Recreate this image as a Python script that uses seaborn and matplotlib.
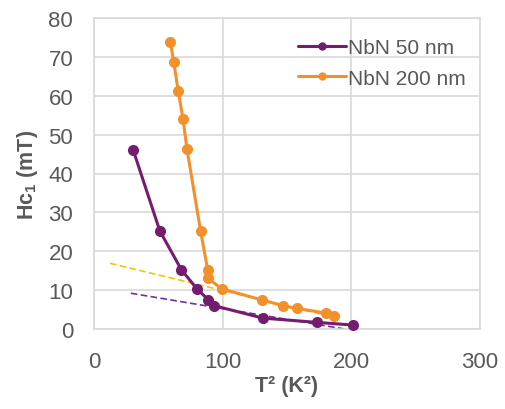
import matplotlib
matplotlib.use("Agg")
import matplotlib.pyplot as plt
import seaborn as sns
import pandas as pd

# Hc1 versus T^2 for two NbN film thicknesses
t2_50 = [30.5, 51.2, 68.0, 80.1, 88.9, 93.3, 131.3, 173.4, 201.6]
hc1_50 = [46.0, 25.2, 15.2, 10.3, 7.5, 6.0, 2.8, 1.7, 1.0]

t2_200 = [59.4, 62.0, 65.4, 69.2, 72.3, 82.9, 88.4, 88.6, 99.5, 130.2, 146.7, 157.6, 180.4, 186.8]
hc1_200 = [73.7, 68.6, 61.3, 54.0, 46.2, 25.1, 15.2, 13.0, 10.3, 7.5, 6.0, 5.3, 4.1, 3.4]

# low-field linear fits (end points)
fit_50_x = [28.6, 202.0]
fit_50_y = [9.2, -0.4]
fit_200_x = [12.4, 186.8]
fit_200_y = [16.9, 3.0]

x_ticks = [0, 100, 200, 300]
y_ticks = [0, 10, 20, 30, 40, 50, 60, 70, 80]
series_names = ["NbN 50 nm", "NbN 200 nm"]

purple = "#731C70"
orange = "#F2912C"
fit_purple = "#7030A0"
fit_orange = "#FFC000"
text_gray = "#595959"
grid_gray = "#D9D9D9"

sns.set_theme(style="white")
plt.rcParams["font.family"] = ["Liberation Sans", "DejaVu Sans"]
plt.rcParams["mathtext.fontset"] = "custom"
plt.rcParams["mathtext.rm"] = "Liberation Sans"
plt.rcParams["mathtext.bf"] = "Liberation Sans:bold"

df = pd.concat([
    pd.DataFrame({"T2": t2_50, "Hc1": hc1_50, "film": series_names[0]}),
    pd.DataFrame({"T2": t2_200, "Hc1": hc1_200, "film": series_names[1]}),
])

fig = plt.figure(figsize=(5.06, 4.10), dpi=100)
ax = fig.add_axes([94 / 506, 1 - 330 / 410, (480 - 94) / 506, (330 - 19) / 410])

ax.set_xlim(0, 300)
ax.set_ylim(0, 80)
ax.set_xticks(x_ticks)
ax.set_yticks(y_ticks)
ax.grid(True, color=grid_gray, linewidth=1.2)
ax.set_axisbelow(True)
for s in ax.spines.values():
    s.set_color(grid_gray)
    s.set_linewidth(1.2)

sns.lineplot(data=pd.DataFrame({"x": fit_50_x, "y": fit_50_y}), x="x", y="y",
             ax=ax, color=fit_purple, linestyle=(0, (4, 2)), linewidth=1.2, zorder=2)
sns.lineplot(data=pd.DataFrame({"x": fit_200_x, "y": fit_200_y}), x="x", y="y",
             ax=ax, color=fit_orange, linestyle=(0, (4, 2)), linewidth=1.2, zorder=2)

sns.lineplot(data=df, x="T2", y="Hc1", hue="film", palette=[purple, orange],
             hue_order=series_names, sort=False, estimator=None,
             marker="o", markersize=8, markeredgewidth=0, linewidth=2.2,
             ax=ax, zorder=3, clip_on=False)

ax.tick_params(axis="y", length=0, labelsize=16, colors=text_gray, pad=15)
ax.tick_params(axis="x", length=0, labelsize=16, colors=text_gray, pad=16)
ax.set_xlabel("T² (K²)", fontsize=15.5, fontweight="bold", color=text_gray, labelpad=2)
ax.set_ylabel(r"Hc$_\mathbf{1}$ (mT)", fontsize=15.5, fontweight="bold", color=text_gray, labelpad=6)

leg = ax.legend(loc="upper right", bbox_to_anchor=(1.012, 0.995), frameon=False,
                fontsize=15, handlelength=2.3, handletextpad=0.1, labelspacing=0.55)
for t in leg.get_texts():
    t.set_color(text_gray)
for h in leg.legend_handles:
    h.set_markersize(6)

fig.savefig("out.png", dpi=100)
